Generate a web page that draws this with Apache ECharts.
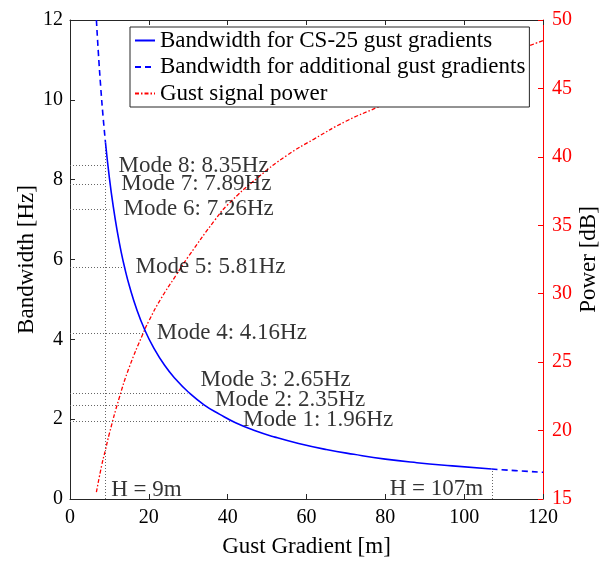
<!DOCTYPE html>
<html><head><meta charset="utf-8">
<script src="https://cdn.jsdelivr.net/npm/echarts@6/dist/echarts.min.js"></script>
<style>html,body{margin:0;padding:0;background:#fff;overflow:hidden}#c{width:608px;height:563px}</style>
</head><body><div id="c"></div>
<script>
// ---- data ----
const gustGradientCS25 = [9, 10, 11, 12, 13, 14, 15, 17, 19, 21, 24, 27, 30, 34, 38, 42, 47, 52, 58, 65, 72, 80, 88, 97, 107];
const bandwidthCS25 = [8.93, 8.04, 7.31, 6.70, 6.18, 5.74, 5.36, 4.73, 4.23, 3.83, 3.35, 2.98, 2.68, 2.36, 2.12, 1.91, 1.71, 1.55, 1.39, 1.24, 1.12, 1.00, 0.91, 0.83, 0.75];
const gustGradientAddLow = [6.7, 7.2, 7.8, 8.4, 9];
const bandwidthAddLow = [12.0, 11.17, 10.31, 9.57, 8.93];
const gustGradientAddHigh = [107, 113, 120];
const bandwidthAddHigh = [0.75, 0.71, 0.67];
const gustGradientPower = [6.7, 8, 9, 10, 12.5, 15, 18.4, 20, 23, 26.8, 30, 36.8, 40, 47.7, 55, 61.9, 70, 77.8, 90, 100, 110, 120];
const powerDb = [15.5, 17.4, 18.6, 19.8, 22.4, 24.6, 27.0, 28.0, 29.6, 31.3, 32.7, 35.4, 36.5, 38.5, 40.1, 41.3, 42.6, 43.6, 45.2, 46.3, 47.4, 48.5];
const modeNames = ['Mode 1', 'Mode 2', 'Mode 3', 'Mode 4', 'Mode 5', 'Mode 6', 'Mode 7', 'Mode 8'];
const modeFreqs = [1.96, 2.35, 2.65, 4.16, 5.81, 7.26, 7.89, 8.35];
const modeGustGradient = [41.0, 34.2, 29.8, 18.9, 13.8, 10.0, 8.9, 8.9];
const limitGradients = [9, 107];
const limitBandwidth = [8.93, 0.75];
const xTicks = [0, 20, 40, 60, 80, 100, 120];
const yTicks = [0, 2, 4, 6, 8, 10, 12];
const y2Ticks = [15, 20, 25, 30, 35, 40, 45, 50];

// ---- layout (not data) ----
const modeLabelAnchorX = [43.9, 36.8, 33.1, 22.0, 16.6, 13.6, 13.0, 12.3];
const modeLabelAnchorY = [1.97, 2.48, 2.97, 4.16, 5.81, 7.26, 7.89, 8.35];
const limitLabelAnchor = [[10.45, 0.23], [81.1, 0.25]];

const FONT = 'Liberation Serif';
const TXT = 23;
const AX = '#262626';
const zip = (a, b) => a.map((v, i) => [v, b[i]]);

const addData = zip(gustGradientAddLow, bandwidthAddLow).concat([[null, null]], zip(gustGradientAddHigh, bandwidthAddHigh));

const markLines = [];
modeFreqs.forEach((f, i) => markLines.push([{coord: [0, f]}, {coord: [modeGustGradient[i], f]}]));
limitGradients.forEach((g, i) => markLines.push([{coord: [g, 0]}, {coord: [g, limitBandwidth[i]]}]));

const labelData = modeNames.map((n, i) => ({
  value: [modeLabelAnchorX[i], modeLabelAnchorY[i]],
  label: {formatter: n + ': ' + modeFreqs[i].toFixed(2) + 'Hz'}
})).concat(limitGradients.map((g, i) => ({
  value: limitLabelAnchor[i],
  label: {formatter: 'H = ' + g + 'm'}
})));

const chart = echarts.init(document.getElementById('c'), null, {renderer: 'canvas', width: 608, height: 563});
chart.setOption({
  animation: false,
  textStyle: {fontFamily: FONT},
  grid: {left: 70, right: 60, top: 20, bottom: 62, containLabel: false},
  legend: {
    left: 130, top: 27, orient: 'vertical', z: 20,
    data: ['Bandwidth for CS-25 gust gradients', 'Bandwidth for additional gust gradients', 'Gust signal power'],
    backgroundColor: '#fff', borderColor: AX, borderWidth: 1,
    padding: [2, 4, 2, 4], itemGap: 3.5, itemWidth: 20, itemHeight: 14,
    itemStyle: {opacity: 0},
    textStyle: {fontFamily: FONT, fontSize: TXT, color: '#000'}
  },
  xAxis: [{
    type: 'value', min: 0, max: 120, interval: 20,
    name: 'Gust Gradient [m]', nameLocation: 'middle', nameGap: 36, nameMoveOverlap: false,
    nameTextStyle: {fontFamily: FONT, fontSize: TXT, color: '#000'},
    axisLine: {onZero: false, lineStyle: {color: AX}}, axisTick: {inside: true, length: 5, lineStyle: {color: AX}},
    axisLabel: {fontFamily: FONT, fontSize: 20, color: '#000', margin: 9, formatter: v => xTicks.includes(v) ? String(v) : ''},
    splitLine: {show: false}
  }, {
    type: 'value', min: 0, max: 120, interval: 20, position: 'top',
    axisLine: {onZero: false, lineStyle: {color: AX}}, axisTick: {inside: true, length: 5, lineStyle: {color: AX}},
    axisLabel: {show: false}, splitLine: {show: false}
  }],
  yAxis: [{
    type: 'value', min: 0, max: 12, interval: 2,
    name: 'Bandwidth [Hz]', nameLocation: 'middle', nameGap: 32, nameMoveOverlap: false,
    nameTextStyle: {fontFamily: FONT, fontSize: TXT, color: '#000'},
    axisLine: {show: true, onZero: false, lineStyle: {color: AX}}, axisTick: {show: true, inside: true, length: 5, lineStyle: {color: AX}},
    axisLabel: {fontFamily: FONT, fontSize: 20, color: '#000', margin: 7, formatter: v => yTicks.includes(v) ? String(v) : ''},
    splitLine: {show: false}
  }, {
    type: 'value', min: 15, max: 50, interval: 5, position: 'right',
    name: 'Power [dB]', nameLocation: 'middle', nameGap: 34, nameMoveOverlap: false,
    nameTextStyle: {fontFamily: FONT, fontSize: TXT, color: '#000'},
    axisLine: {show: true, onZero: false, lineStyle: {color: '#ff0000'}}, axisTick: {show: true, inside: true, length: 5, lineStyle: {color: '#ff0000'}},
    axisLabel: {fontFamily: FONT, fontSize: 20, color: '#ff0000', margin: 9, formatter: v => y2Ticks.includes(v) ? String(v) : ''},
    splitLine: {show: false}
  }],
  series: [{
    name: 'Bandwidth for CS-25 gust gradients', type: 'line', xAxisIndex: 0, yAxisIndex: 0,
    data: zip(gustGradientCS25, bandwidthCS25), showSymbol: false, symbol: 'none', smooth: true,
    lineStyle: {color: '#0000ff', width: 1.6}, itemStyle: {color: '#0000ff'}, z: 5,
    markLine: {silent: true, symbol: 'none', label: {show: false},
      lineStyle: {color: '#666', type: [1, 2], width: 1}, data: markLines}
  }, {
    name: 'Bandwidth for additional gust gradients', type: 'line', xAxisIndex: 0, yAxisIndex: 0,
    data: addData, showSymbol: false, symbol: 'none', smooth: true, connectNulls: false,
    lineStyle: {color: '#0000ff', width: 1.6, type: [6, 4]}, itemStyle: {color: '#0000ff'}, z: 5
  }, {
    name: 'Gust signal power', type: 'line', xAxisIndex: 0, yAxisIndex: 1,
    data: zip(gustGradientPower, powerDb), showSymbol: false, symbol: 'none', smooth: true,
    lineStyle: {color: '#ff0000', width: 1.3, type: [4, 2, 1.5, 2]}, itemStyle: {color: '#ff0000'}, z: 4
  }, {
    name: 'labels', type: 'scatter', xAxisIndex: 0, yAxisIndex: 0, symbolSize: 0, silent: true, z: 10,
    data: labelData,
    label: {show: true, position: 'right', distance: 0, fontFamily: FONT, fontSize: TXT, color: '#000'}
  }]
});
</script></body></html>
